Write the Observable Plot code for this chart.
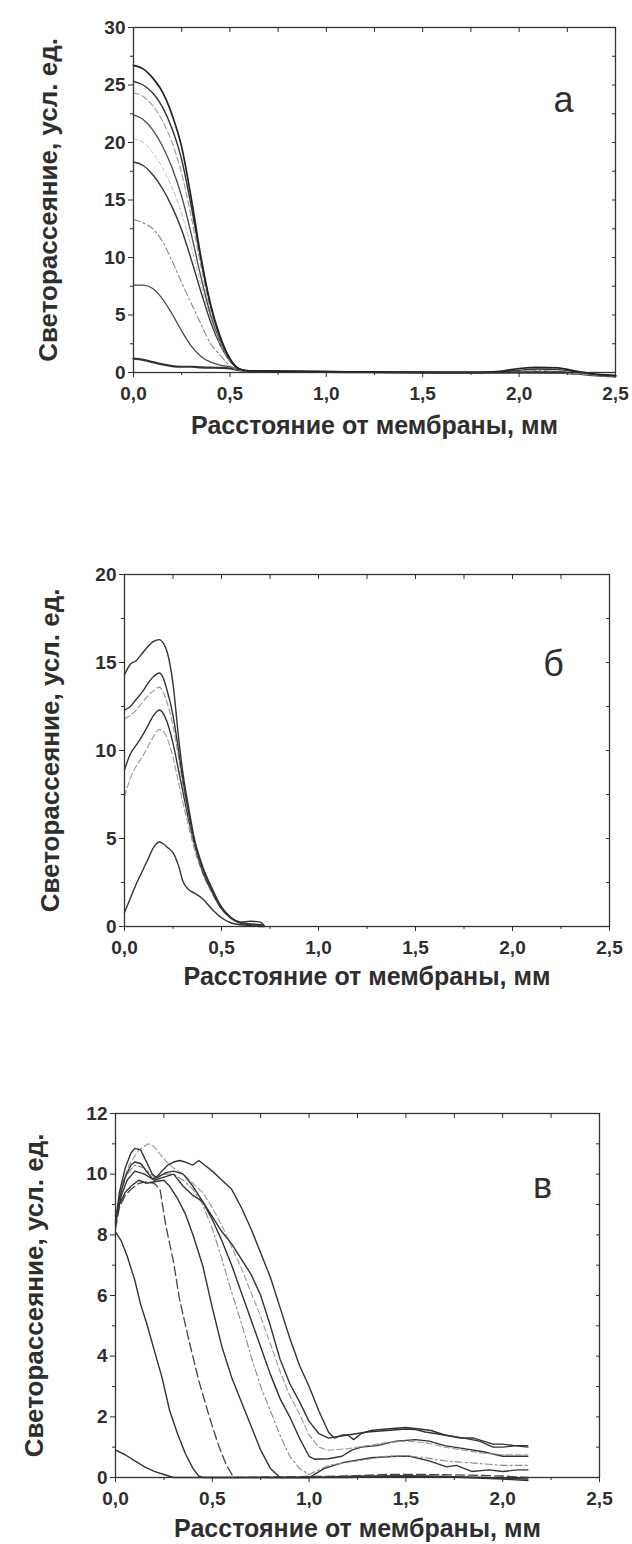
<!DOCTYPE html>
<html><head><meta charset="utf-8">
<script src="https://cdn.jsdelivr.net/npm/d3@7"></script>
<script src="https://cdn.jsdelivr.net/npm/@observablehq/plot@0.6"></script>
<style>
body{margin:0;background:#fff;}
#root{position:relative;width:632px;height:1544px;overflow:hidden;background:#fff;}
#root svg{position:absolute;left:0;}
</style></head><body><div id="root"></div>
<script>
// ---------- shared texts & ticks ----------
const xTitle = "Расстояние от мембраны, мм";
const yTitle = "Светорассеяние, усл. ед.";
const panelLabels = ["а", "б", "в"];
const xMajor = [0, 0.5, 1, 1.5, 2, 2.5];
const xMinor = [0.25, 0.75, 1.25, 1.75, 2.25];
const xLabels = ["0,0", "0,5", "1,0", "1,5", "2,0", "2,5"];
const yMajorA = [0, 5, 10, 15, 20, 25, 30];
const yMinorA = [2.5, 7.5, 12.5, 17.5, 22.5, 27.5];
const yMajorB = [0, 5, 10, 15, 20];
const yMinorB = [2.5, 7.5, 12.5, 17.5];
const yMajorC = [0, 2, 4, 6, 8, 10, 12];
const yMinorC = [1, 3, 5, 7, 9, 11];

// ---------- panel а ----------
const xA = [0, 0.05, 0.1, 0.15, 0.2, 0.25, 0.3, 0.35, 0.4, 0.45, 0.5, 0.55, 0.6, 0.8, 1.0, 1.2, 1.4, 1.6, 1.8, 1.9, 2.0, 2.1, 2.2, 2.3, 2.4, 2.5];
const a1 = [26.7, 26.4, 25.6, 24.4, 22.4, 19.6, 15.1, 10.0, 5.9, 3.1, 1.2, 0.3, 0.15, 0.1, 0.08, 0.05, 0.02, 0.0, 0.0, 0.1, 0.35, 0.45, 0.4, 0.1, -0.15, -0.25];
const a2 = [25.3, 25.0, 24.3, 23.1, 21.2, 18.5, 14.4, 9.8, 5.8, 3.0, 1.2, 0.3, 0.12, 0.1, 0.06, 0.04, 0.02, 0.0, 0.0, 0.05, 0.2, 0.3, 0.25, 0.05, -0.2, -0.3];
const a3 = [24.3, 24.0, 23.2, 21.9, 20.0, 17.3, 13.5, 9.2, 5.4, 2.8, 1.1, 0.3, 0.12, 0.08, 0.05, 0.03, 0.0, 0.0, 0.0, 0.0, 0.05, 0.05, 0.0, -0.1, -0.25, -0.35];
const a4 = [22.4, 22.0, 21.1, 19.7, 17.8, 15.3, 12.0, 8.3, 5.0, 2.7, 1.1, 0.3, 0.12, 0.1, 0.05, 0.03, 0.0, 0.0, 0.0, 0.0, 0.0, 0.0, -0.05, -0.15, -0.3, -0.4];
const a5 = [20.3, 20.0, 19.1, 17.8, 16.1, 13.8, 10.9, 7.6, 4.7, 2.5, 1.0, 0.3, 0.1, 0.08, 0.05, 0.02, 0.0, 0.0, 0.0, 0.0, 0.0, 0.0, 0.0, -0.1, -0.2, -0.3];
const a6 = [18.3, 18.0, 17.2, 16.0, 14.4, 12.4, 9.8, 7.0, 4.4, 2.4, 1.0, 0.3, 0.15, 0.1, 0.08, 0.05, 0.02, 0.0, 0.0, 0.0, 0.05, 0.1, 0.05, -0.05, -0.2, -0.3];
const a7 = [13.3, 13.0, 12.5, 11.4, 9.7, 7.8, 6.0, 4.2, 2.5, 1.5, 0.6, 0.2, 0.1, 0.08, 0.05, 0.03, 0.0, 0.0, 0.0, 0.0, 0.1, 0.15, 0.1, 0.0, -0.15, -0.25];
const a8 = [7.6, 7.6, 7.3, 6.4, 5.1, 3.6, 2.3, 1.4, 0.9, 0.65, 0.5, 0.25, 0.1, 0.08, 0.05, 0.03, 0.0, 0.0, 0.0, 0.0, 0.0, 0.0, 0.0, -0.1, -0.2, -0.3];
const a9 = [1.2, 1.1, 0.9, 0.7, 0.55, 0.5, 0.5, 0.45, 0.42, 0.4, 0.35, 0.2, 0.1, 0.08, 0.05, 0.03, 0.0, 0.0, 0.0, 0.0, 0.0, 0.0, 0.0, -0.1, -0.2, -0.3];

// ---------- panel б ----------
const xB = [0, 0.03, 0.06, 0.09, 0.12, 0.15, 0.18, 0.2, 0.22, 0.25, 0.28, 0.3, 0.33, 0.36, 0.4, 0.45, 0.5, 0.55, 0.6, 0.65, 0.7, 0.72];
const b1 = [14.3, 14.9, 15.1, 15.5, 15.9, 16.2, 16.3, 16.1, 15.6, 13.8, 10.6, 8.8, 6.8, 5.0, 3.5, 2.2, 1.1, 0.5, 0.25, 0.3, 0.25, 0.05];
const b2 = [12.3, 12.5, 12.9, 13.3, 13.8, 14.2, 14.4, 14.1, 13.4, 12.0, 9.9, 8.4, 6.5, 4.9, 3.4, 2.1, 1.1, 0.5, 0.2, 0.15, 0.1, 0.05];
const b3 = [11.8, 12.0, 12.3, 12.7, 13.1, 13.4, 13.6, 13.3, 12.7, 11.4, 9.5, 8.1, 6.3, 4.8, 3.3, 2.1, 1.1, 0.5, 0.25, 0.15, 0.1, 0.05];
const b4 = [8.9, 9.8, 10.3, 10.8, 11.4, 12.0, 12.3, 12.1, 11.6, 10.4, 8.8, 7.7, 6.1, 4.7, 3.2, 2.0, 1.0, 0.45, 0.2, 0.1, 0.05, 0.0];
const b5 = [7.4, 8.4, 9.1, 9.6, 10.2, 10.8, 11.2, 11.1, 10.7, 9.6, 8.1, 7.1, 5.7, 4.4, 3.1, 1.9, 1.0, 0.5, 0.25, 0.15, 0.1, 0.05];
const b6 = [0.8, 1.6, 2.4, 3.1, 3.8, 4.5, 4.8, 4.7, 4.5, 4.2, 3.4, 2.6, 2.1, 1.9, 1.6, 1.0, 0.5, 0.2, 0.1, 0.05, 0.0, 0.0];

// ---------- panel в ([x, y] pairs) ----------
const c1 = [[0,8.4],[0.02,9.4],[0.05,10.2],[0.08,10.7],[0.1,10.85],[0.13,10.8],[0.16,10.4],[0.19,10.0],[0.21,9.9],[0.24,10.1],[0.27,10.3],[0.3,10.4],[0.33,10.45],[0.36,10.4],[0.4,10.3],[0.43,10.45],[0.46,10.3],[0.5,10.1],[0.55,9.8],[0.6,9.5],[0.65,8.9],[0.7,8.2],[0.75,7.4],[0.8,6.6],[0.85,5.6],[0.9,4.6],[0.95,3.7],[1.0,3.0],[1.05,2.2],[1.1,1.5],[1.13,1.3],[1.17,1.4],[1.2,1.4],[1.23,1.25],[1.27,1.45],[1.32,1.55],[1.4,1.6],[1.5,1.65],[1.57,1.6],[1.63,1.55],[1.7,1.4],[1.78,1.3],[1.85,1.3],[1.9,1.2],[1.95,1.1],[2.0,1.1],[2.06,1.05],[2.13,1.0]];
const c2 = [[0,8.3],[0.02,9.2],[0.05,9.9],[0.08,10.3],[0.1,10.4],[0.13,10.35],[0.16,10.1],[0.19,9.85],[0.22,9.9],[0.26,10.05],[0.3,10.1],[0.35,10.0],[0.4,9.6],[0.45,9.1],[0.5,8.6],[0.55,8.1],[0.6,7.7],[0.65,7.2],[0.7,6.7],[0.75,6.0],[0.8,5.0],[0.85,3.9],[0.9,3.1],[0.95,2.5],[1.0,1.85],[1.05,1.45],[1.1,1.3],[1.15,1.35],[1.2,1.4],[1.25,1.45],[1.3,1.5],[1.4,1.55],[1.5,1.6],[1.55,1.58],[1.6,1.5],[1.7,1.4],[1.8,1.3],[1.88,1.2],[1.95,1.0],[2.0,1.0],[2.07,1.05],[2.13,1.05]];
const c3 = [[0,8.5],[0.03,9.6],[0.07,10.3],[0.12,10.8],[0.17,11.0],[0.2,10.9],[0.25,10.5],[0.3,10.2],[0.35,10.0],[0.4,9.7],[0.45,9.4],[0.5,8.9],[0.55,8.3],[0.6,7.6],[0.65,6.9],[0.7,6.1],[0.75,5.3],[0.8,4.4],[0.85,3.5],[0.9,2.7],[0.95,2.1],[1.0,1.4],[1.05,1.0],[1.1,0.9],[1.2,0.95],[1.3,1.05],[1.4,1.15],[1.5,1.2],[1.6,1.15],[1.7,1.0],[1.8,0.9],[1.9,0.8],[2.0,0.75],[2.13,0.75]];
const c4 = [[0,8.4],[0.03,9.3],[0.06,9.8],[0.1,10.1],[0.15,10.0],[0.2,9.8],[0.25,9.9],[0.3,10.0],[0.35,9.6],[0.4,9.3],[0.45,9.1],[0.5,8.5],[0.55,7.8],[0.6,7.0],[0.65,6.1],[0.7,5.2],[0.75,4.3],[0.8,3.4],[0.85,2.6],[0.9,2.0],[0.95,1.3],[1.0,0.7],[1.03,0.6],[1.1,0.62],[1.17,0.7],[1.22,0.9],[1.27,1.0],[1.35,1.05],[1.45,1.2],[1.55,1.25],[1.62,1.2],[1.7,1.05],[1.8,0.95],[1.9,0.85],[2.0,0.7],[2.13,0.7]];
const c5 = [[0,8.6],[0.03,9.5],[0.06,10.0],[0.1,10.3],[0.15,10.2],[0.2,9.9],[0.25,10.0],[0.3,10.0],[0.35,9.8],[0.4,9.5],[0.45,9.0],[0.5,8.2],[0.55,7.2],[0.6,6.1],[0.65,5.1],[0.7,4.0],[0.75,3.0],[0.8,2.2],[0.85,1.4],[0.9,0.7],[0.95,0.3],[1.0,0.1],[1.05,0.25],[1.1,0.4],[1.2,0.5],[1.3,0.6],[1.4,0.7],[1.5,0.72],[1.6,0.65],[1.7,0.55],[1.8,0.5],[1.9,0.45],[2.0,0.4],[2.13,0.4]];
const c6 = [[0,8.5],[0.02,9.0],[0.05,9.4],[0.08,9.6],[0.12,9.8],[0.16,9.7],[0.2,9.75],[0.25,9.8],[0.28,9.6],[0.32,9.2],[0.36,8.7],[0.4,8.0],[0.45,7.0],[0.5,5.6],[0.55,4.3],[0.6,3.3],[0.65,2.5],[0.7,1.7],[0.75,0.9],[0.8,0.3],[0.85,0.0],[1.0,0.0],[1.08,0.3],[1.18,0.5],[1.32,0.65],[1.45,0.7],[1.52,0.7],[1.62,0.55],[1.71,0.35],[1.76,0.4],[1.84,0.2],[1.93,0.25],[2.0,0.2],[2.08,0.25],[2.13,0.25]];
const c7 = [[0,8.2],[0.02,8.9],[0.05,9.3],[0.08,9.5],[0.12,9.7],[0.16,9.75],[0.2,9.7],[0.23,9.5],[0.26,8.3],[0.3,7.1],[0.33,5.9],[0.38,4.5],[0.43,3.2],[0.48,2.1],[0.53,1.1],[0.57,0.45],[0.61,0.0],[1.2,0.05],[1.4,0.1],[1.6,0.1],[1.8,0.08],[2.0,0.05],[2.13,0.0]];
const c8 = [[0,8.1],[0.03,7.8],[0.06,7.3],[0.1,6.5],[0.13,5.7],[0.16,5.1],[0.2,4.2],[0.24,3.3],[0.28,2.2],[0.32,1.45],[0.36,0.8],[0.4,0.3],[0.43,0.05],[0.45,0.0],[1.2,0.0],[1.5,0.05],[1.8,0.0],[2.0,-0.05],[2.13,-0.1]];
const c9 = [[0,0.9],[0.05,0.75],[0.1,0.55],[0.15,0.35],[0.2,0.2],[0.25,0.1],[0.3,0.0],[0.6,0.0],[1.0,0.0],[1.3,0.05],[1.6,0.05],[1.9,0.0],[2.13,-0.05]];

// ---------- drawing ----------
const FONT = "'Liberation Sans', Arial, Helvetica, sans-serif";
const INK = "#2e2e2e";
const zip = (xs, ys) => xs.map((x, i) => [x, ys[i]]);
const SOLID = {stroke: "#333", strokeWidth: 1.4};
const SOLID_DARK = {stroke: "#222", strokeWidth: 1.7};
const SOLID_MID = {stroke: "#4a4a4a", strokeWidth: 1.3};
const DASH = {stroke: "#444", strokeWidth: 1.3, strokeDasharray: "9,4"};
const LIGHT_DASH = {stroke: "#999", strokeWidth: 1.1, strokeDasharray: "6,3"};
const LIGHT_DASHDOT = {stroke: "#888", strokeWidth: 1.1, strokeDasharray: "7,3,2,3"};
const FAINT = {stroke: "#bbb", strokeWidth: 1, strokeDasharray: "4,3"};

function panel(o) {
  const lines = o.series.map(([data, style]) =>
    Plot.line(data, {x: d => d[0], y: d => d[1], curve: o.curve, ...style}));
  const chart = Plot.plot({
    width: 632, height: o.height,
    marginTop: o.mt, marginBottom: o.mb, marginLeft: o.ml, marginRight: o.mr,
    style: {fontFamily: FONT, background: "transparent", overflow: "visible"},
    x: {domain: [0, 2.5]},
    y: {domain: o.yDomain},
    marks: [
      ...lines,
      Plot.frame({stroke: "#333", strokeWidth: 1.3}),
      Plot.axisX(xMajor, {anchor: "bottom", tickSize: 5, tickPadding: 9, tickFormat: d => xLabels[xMajor.indexOf(d)], fontSize: 19, fontWeight: "bold", color: INK, label: null}),
      Plot.axisX(xMinor, {anchor: "bottom", tickSize: 3, tickFormat: () => "", color: INK, label: null}),
      Plot.axisX([...xMajor, ...xMinor], {anchor: "top", tickSize: -4, tickFormat: () => "", color: INK, label: null}),
      Plot.axisY(o.yMajor, {anchor: "left", tickSize: 5, tickPadding: 3, tickFormat: d => String(d), fontSize: 19, fontWeight: "bold", color: INK, label: null}),
      Plot.axisY(o.yMinor, {anchor: "left", tickSize: 3, tickFormat: () => "", color: INK, label: null}),
      Plot.axisY([...o.yMajor, ...o.yMinor], {anchor: "right", tickSize: -4, tickFormat: () => "", color: INK, label: null}),
      Plot.text([xTitle], {text: d => d, frameAnchor: "bottom", dy: o.xTitleDy, fontSize: 25, fontWeight: "bold", fill: INK, textAnchor: "middle", lineAnchor: "middle"}),
      Plot.text([yTitle], {text: d => d, frameAnchor: "left", dx: o.yTitleDx, rotate: -90, fontSize: 26, fontWeight: "bold", fill: INK, textAnchor: "middle", lineAnchor: "middle"}),
      Plot.text([o.label], {text: d => d, frameAnchor: "top-right", dx: o.labelDx, dy: o.labelDy, fontSize: 36, fill: INK, textAnchor: "middle", lineAnchor: "middle"})
    ]
  });
  chart.style.top = o.top + "px";
  document.getElementById("root").appendChild(chart);
}

panel({
  top: 0, height: 452, mt: 27, mb: 80, ml: 133, mr: 17,
  yDomain: [0, 30], yMajor: yMajorA, yMinor: yMinorA, curve: "monotone-x",
  xTitleDy: 53, yTitleDx: -85, label: panelLabels[0], labelDx: -52, labelDy: 73,
  series: [
    [zip(xA, a9), {stroke: "#333", strokeWidth: 2.2}],
    [zip(xA, a8), SOLID_MID],
    [zip(xA, a7), LIGHT_DASHDOT],
    [zip(xA, a6), SOLID],
    [zip(xA, a5), FAINT],
    [zip(xA, a4), SOLID_MID],
    [zip(xA, a3), LIGHT_DASH],
    [zip(xA, a2), SOLID],
    [zip(xA, a1), SOLID_DARK]
  ]
});

panel({
  top: 500, height: 506, mt: 74, mb: 80, ml: 124, mr: 23,
  yDomain: [0, 20], yMajor: yMajorB, yMinor: yMinorB, curve: "monotone-x",
  xTitleDy: 50, yTitleDx: -74, label: panelLabels[1], labelDx: -56, labelDy: 90,
  series: [
    [zip(xB, b6), SOLID],
    [zip(xB, b5), LIGHT_DASH],
    [zip(xB, b4), SOLID],
    [zip(xB, b3), LIGHT_DASH],
    [zip(xB, b2), SOLID],
    [zip(xB, b1), SOLID]
  ]
});

panel({
  top: 1040, height: 504, mt: 73, mb: 67, ml: 115, mr: 33,
  yDomain: [0, 12], yMajor: yMajorC, yMinor: yMinorC, curve: "linear",
  xTitleDy: 51, yTitleDx: -81, label: panelLabels[2], labelDx: -57, labelDy: 73,
  series: [
    [c9, SOLID],
    [c8, SOLID],
    [c7, DASH],
    [c6, SOLID],
    [c5, LIGHT_DASHDOT],
    [c4, SOLID],
    [c3, LIGHT_DASH],
    [c2, SOLID],
    [c1, SOLID]
  ]
});
</script></body></html>
